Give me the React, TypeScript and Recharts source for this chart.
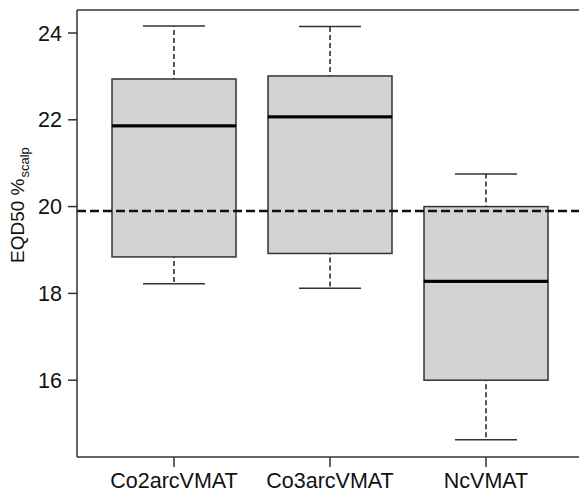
import { BarChart, Bar, XAxis, YAxis, ReferenceLine } from "recharts";

const categories = ["Co2arcVMAT", "Co3arcVMAT", "NcVMAT"];
const whiskerLow = [18.22, 18.12, 14.63];
const q1 = [18.84, 18.92, 16.0];
const median = [21.86, 22.07, 18.28];
const q3 = [22.94, 23.01, 20.0];
const whiskerHigh = [24.16, 24.15, 20.75];
const referenceValue = 19.9;
const yTicks = [16, 18, 20, 22, 24];
const yDomain = [14.23, 24.53];

const data = categories.map((name, i) => ({
    name,
    base: whiskerLow[i],
    lowWhisker: q1[i] - whiskerLow[i],
    lowBox: median[i] - q1[i],
    highBox: q3[i] - median[i],
    highWhisker: whiskerHigh[i] - q3[i],
}));

const frame = "#333";
const font = "'Liberation Sans', Arial, sans-serif";

const Empty = () => null;

// whisker: dashed stem plus cap at the outer end
const Whisker = (upper: boolean) => (props: any) => {
    const { x, y, width, height } = props;
    const cx = x + width / 2;
    const capY = upper ? y : y + height;
    const boxY = upper ? y + height : y;
    return (
        <g>
            <line x1={cx} x2={cx} y1={boxY} y2={capY} stroke="#222" strokeWidth={1.5} strokeDasharray="5 3" strokeDashoffset={-4} />
            <line x1={cx - width / 4} x2={cx + width / 4} y1={capY} y2={capY} stroke="#333" strokeWidth={1.5} />
        </g>
    );
};

const BoxHalf = (upper: boolean) => (props: any) => {
    const { x, y, width, height } = props;
    const medY = upper ? y + height : y;
    return (
        <g>
            <rect x={x} y={y} width={width} height={height} fill="#d3d3d3" stroke={frame} strokeWidth={1.5} />
            <line x1={x} x2={x + width} y1={medY} y2={medY} stroke="#000" strokeWidth={3} />
        </g>
    );
};

const YLabel = (props: any) => {
    const { viewBox } = props;
    const x = viewBox.x + 24;
    const y = viewBox.y + 253;
    return (
        <text x={x} y={y} transform={`rotate(-90, ${x}, ${y})`} fontFamily={font} fontSize={19} fill="#111" textAnchor="start">
            EQD50 %
            <tspan fontSize={13} dy={5} dx={1}>scalp</tspan>
        </text>
    );
};

export default function App() {
    return (
        <div style={{ position: "absolute", left: 0, top: 0, background: "#fff" }}>
            <BarChart
                width={579}
                height={496}
                data={data}
                margin={{ top: 10, right: 0, left: 0, bottom: 0 }}
                barSize={124}
            >
                <XAxis
                    dataKey="name"
                    padding={{ left: 19, right: 15 }}
                    height={39}
                    tickSize={10}
                    tickMargin={6}
                    axisLine={{ stroke: frame, strokeWidth: 1.5 }}
                    tickLine={{ stroke: frame, strokeWidth: 1.5 }}
                    tick={{ fontSize: 21.5, fill: "#111", fontFamily: font }}
                />
                <YAxis
                    type="number"
                    domain={yDomain}
                    allowDataOverflow
                    ticks={yTicks}
                    width={77}
                    tickSize={9}
                    tickMargin={6}
                    axisLine={{ stroke: frame, strokeWidth: 1.5 }}
                    tickLine={{ stroke: frame, strokeWidth: 1.5 }}
                    tick={{ fontSize: 21.5, fill: "#111", fontFamily: font }}
                    label={{ content: YLabel }}
                />
                <Bar dataKey="base" stackId="box" shape={Empty} isAnimationActive={false} />
                <Bar dataKey="lowWhisker" stackId="box" shape={Whisker(false)} isAnimationActive={false} />
                <Bar dataKey="lowBox" stackId="box" shape={BoxHalf(false)} isAnimationActive={false} />
                <Bar dataKey="highBox" stackId="box" shape={BoxHalf(true)} isAnimationActive={false} />
                <Bar dataKey="highWhisker" stackId="box" shape={Whisker(true)} isAnimationActive={false} />
                <ReferenceLine y={referenceValue} stroke="#111" strokeWidth={2.5} strokeDasharray="9 4" />
                <ReferenceLine y={yDomain[1]} stroke={frame} strokeWidth={1.5} />
            </BarChart>
        </div>
    );
}
